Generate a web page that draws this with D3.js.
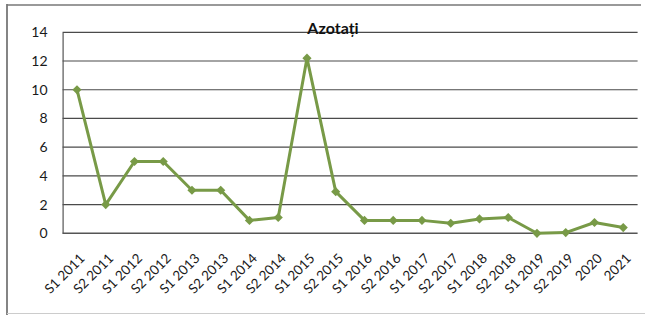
<!DOCTYPE html>
<html>
<head>
<meta charset="utf-8">
<script src="https://cdn.jsdelivr.net/npm/d3@7"></script>
<style>
  body { margin: 0; background: #fff; }
  svg { display: block; font-family: Lato, 'Open Sans', sans-serif; }
</style>
</head>
<body>
<div id="chart"></div>
<script>
const categories = ['S1 2011', 'S2 2011', 'S1 2012', 'S2 2012', 'S1 2013', 'S2 2013', 'S1 2014', 'S2 2014',
  'S1 2015', 'S2 2015', 'S1 2016', 'S2 2016', 'S1 2017', 'S2 2017', 'S1 2018', 'S2 2018',
  'S1 2019', 'S2 2019', '2020', '2021']
const values = [10, 2, 5, 5, 3, 3, 0.9, 1.1, 12.2, 2.9, 0.9, 0.9, 0.9, 0.7, 1, 1.1, 0, 0.05, 0.75, 0.4]
const yTicks = [0, 2, 4, 6, 8, 10, 12, 14]
const title = 'Azotați'

const dimensions = {
  width: 645,
  height: 315,
  margin: { top: 32.3, right: 7.4, bottom: 81.7, left: 62.6 }
}
const innerW = dimensions.width - dimensions.margin.left - dimensions.margin.right
const innerH = dimensions.height - dimensions.margin.top - dimensions.margin.bottom
const green = '#789a47'

const svg = d3.select('#chart').append('svg')
  .attr('width', dimensions.width)
  .attr('height', dimensions.height)

// scanned page frame
svg.append('line').attr('x1', 7).attr('x2', 7).attr('y1', 4).attr('y2', 315)
  .attr('stroke', '#666').attr('stroke-width', 1.6)
svg.append('line').attr('x1', 7).attr('x2', 641).attr('y1', 5).attr('y2', 5)
  .attr('stroke', '#777').attr('stroke-width', 1.3)
svg.append('line').attr('x1', 7).attr('x2', 645).attr('y1', 313.5).attr('y2', 313.5)
  .attr('stroke', '#ccc').attr('stroke-width', 1)

const bounds = svg.append('g')
  .attr('transform', `translate(${dimensions.margin.left}, ${dimensions.margin.top})`)

const x = d3.scalePoint().domain(categories).range([0, innerW]).padding(0.5)
const y = d3.scaleLinear().domain([0, 14]).range([innerH, 0])

// gridlines
bounds.append('g')
  .selectAll('line')
  .data(yTicks.filter(d => d > 0))
  .join('line')
  .attr('x1', 0)
  .attr('x2', innerW)
  .attr('y1', d => y(d))
  .attr('y2', d => y(d))
  .attr('stroke', '#4a4a4a')
  .attr('stroke-width', 1.2)

// y axis
const yAxis = bounds.append('g')
  .call(d3.axisLeft(y).tickValues(yTicks).tickSize(0).tickPadding(15))
yAxis.select('.domain').attr('stroke', '#555').attr('stroke-width', 1.2)
yAxis.selectAll('text')
  .attr('font-size', 14)
  .attr('font-family', 'Lato, sans-serif')
  .attr('fill', '#1a1a1a')

// x axis
const xAxis = bounds.append('g')
  .attr('transform', `translate(0, ${innerH})`)
  .call(d3.axisBottom(x).tickSize(0).tickPadding(0))
xAxis.select('.domain').attr('stroke', '#555').attr('stroke-width', 1.4).attr('d', `M0,0H${innerW}`)
xAxis.selectAll('text')
  .attr('font-size', 13.5)
  .attr('font-family', 'Lato, sans-serif')
  .attr('fill', '#1a1a1a')
  .attr('text-anchor', 'end')
  .attr('dy', 0)
  .attr('y', 0)
  .attr('transform', 'translate(8, 26) rotate(-45)')

// title
svg.append('text')
  .text(title)
  .attr('x', 333)
  .attr('y', 34)
  .attr('text-anchor', 'middle')
  .attr('font-size', 16)
  .attr('font-weight', 'bold')
  .attr('fill', '#111')

// series
const line = d3.line()
  .x((d, i) => x(categories[i]))
  .y(d => y(d))

bounds.append('path')
  .datum(values)
  .attr('d', line)
  .attr('fill', 'none')
  .attr('stroke', green)
  .attr('stroke-width', 3)
  .attr('stroke-linejoin', 'round')

bounds.append('g')
  .selectAll('path')
  .data(values)
  .join('path')
  .attr('d', d3.symbol().type(d3.symbolSquare).size(42))
  .attr('transform', (d, i) => `translate(${x(categories[i])}, ${y(d)}) rotate(45)`)
  .attr('fill', green)
</script>
</body>
</html>
